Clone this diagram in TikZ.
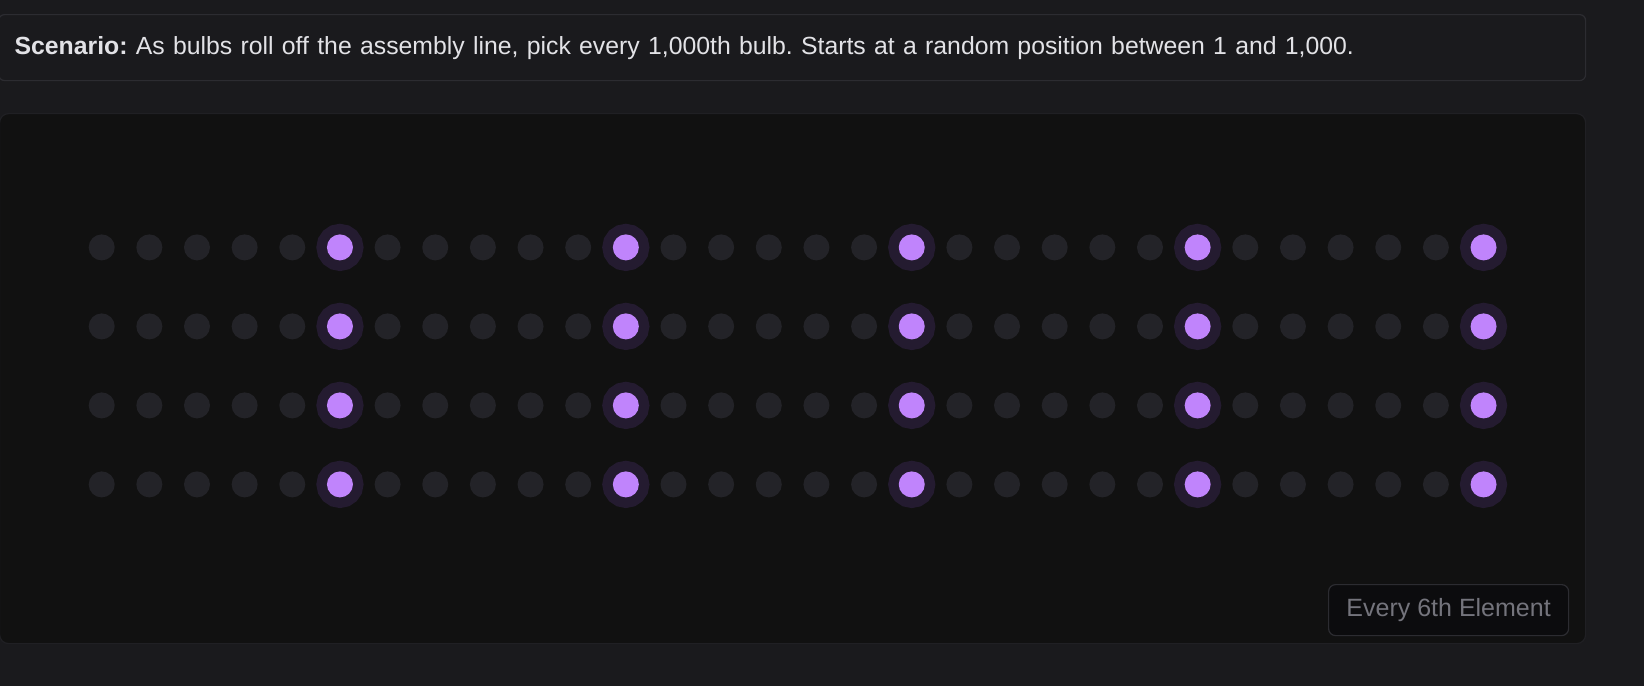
\documentclass[tikz,border=0pt]{standalone}
\usepackage{fontspec}
\setmainfont{Liberation Sans}
\usetikzlibrary{positioning}
\frenchspacing
\definecolor{pagebg}{HTML}{1A1A1D}
\definecolor{panelbg}{HTML}{111111}
\definecolor{panelline}{HTML}{202024}
\definecolor{boxline}{HTML}{2C2C31}
\definecolor{dotgrey}{HTML}{232328}
\definecolor{pickfill}{HTML}{C084FC}
\definecolor{pickhalo}{HTML}{241B30}
\definecolor{textmain}{HTML}{E2E2E6}
\definecolor{textdim}{HTML}{74747C}
\definecolor{tagbg}{HTML}{0C0C0E}

\begin{document}
\begin{tikzpicture} [x=1pt, y=-1pt,
    scenario/.style={draw=boxline, fill=pagebg, rounded corners=6pt, line width=1.2pt, minimum width=1587pt, minimum height=66pt, inner xsep=16pt, text width=1555pt, align=left, text=textmain, font=\fontsize{24.8}{29}\selectfont},
    panel/.style={draw=panelline, fill=panelbg, rounded corners=9pt, line width=1.2pt, minimum width=1586pt, minimum height=530pt},
    bulb/.style={circle, fill=dotgrey, minimum size=26pt, inner sep=0pt},
    picked/.style={circle, fill=pickfill, minimum size=26pt, inner sep=0pt, preaction={draw=pickhalo, line width=21pt}},
    tag/.style={draw=boxline, fill=tagbg, rounded corners=7pt, line width=1.2pt, minimum width=240pt, minimum height=51pt, inner sep=0pt, text=textdim, font=\fontsize{25}{30}\selectfont}]
        \useasboundingbox[fill=pagebg] (0,0) rectangle (1644,686);

        % Nodes
        \node[scenario, anchor=north west] (scenario) at (-2,14) {\textbf{Scenario:} As bulbs roll off the assembly line, pick every 1,000th bulb. Starts at a random position between 1 and 1,000.};
        \node[panel, anchor=north west] (panel) at (-1,113) {};

        % Bulbs, every 6th one picked
        \foreach \r in {0,...,3}
            \foreach \c in {0,...,29} {
                \pgfmathtruncatemacro\pick{mod(\c+1,6)==0}
                \ifnum\pick=1
                    \node[picked] (bulb-\r-\c) at (101.7+47.65*\c, 247.4+79*\r) {};
                \else
                    \node[bulb] (bulb-\r-\c) at (101.7+47.65*\c, 247.4+79*\r) {};
                \fi
            }

        \node[tag, above left=8pt and 17pt of panel.south east] (rule) {Every 6th Element};
    \end{tikzpicture}
\end{document}
